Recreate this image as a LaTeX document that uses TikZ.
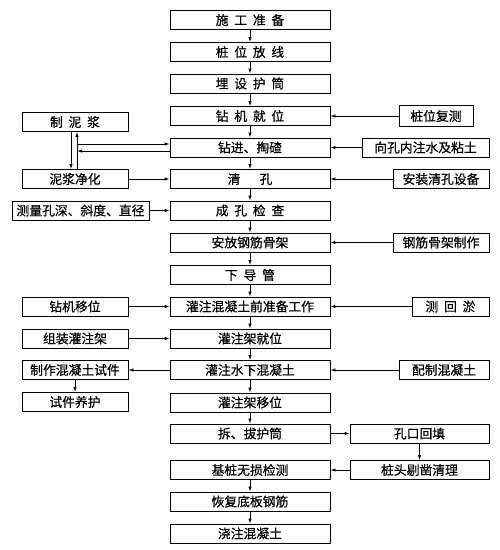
\documentclass[tikz,border=0pt]{standalone}
\usepackage{fontspec}
\newfontfamily\cjk{Noto Sans CJK SC}[FakeBold=0.6]
\usetikzlibrary{arrows.meta}
\newcommand{\jg}{\hspace{0.45em}}

\begin{document}
\begin{tikzpicture}[x=1pt,y=-1pt,line width=0.9pt,
        >={Latex[length=5pt,width=3.5pt]},
        box/.style={draw,minimum height=19pt,inner sep=0pt,font=\cjk\fontsize{12.8}{14}\selectfont},
        main/.style={box,minimum width=160pt},
        lbox/.style={box,minimum width=106pt},
        rbox/.style={box,minimum width=#1}]
            \useasboundingbox (0,0) rectangle (500,550);

            % Main column
            \node[main] (prep) at (250,20) {施\jg 工\jg 准\jg 备};
            \node[main] (stake) at (250,52) {桩\jg 位\jg 放\jg 线};
            \node[main] (casing) at (250,83.5) {埋\jg 设\jg 护\jg 筒};
            \node[main] (rig) at (250,116) {钻\jg 机\jg 就\jg 位};
            \node[main] (drill) at (250,147.5) {钻进、掏碴};
            \node[main] (clean) at (250,179) {清\hspace{1.5em}孔};
            \node[main] (check) at (250,210.5) {成\jg 孔\jg 检\jg 查};
            \node[main] (cage) at (250,242.5) {安放钢筋骨架};
            \node[main] (tube) at (250,275) {下\jg 导\jg 管};
            \node[main] (ready) at (250,306.5) {灌注混凝土前准备工作};
            \node[main] (frame) at (250,338.5) {灌注架就位};
            \node[main] (pour) at (250,370) {灌注水下混凝土};
            \node[main] (frmove) at (250,402.5) {灌注架移位};
            \node[main] (pull) at (250,433.5) {拆、拔护筒};
            \node[main] (ndt) at (250,470) {基桩无损检测};
            \node[main] (rebar) at (250,501.5) {恢复底板钢筋};
            \node[main] (slab) at (250,533.5) {浇注混凝土};

            % Left column
            \node[lbox] (mud) at (75,122) {制\jg 泥\jg 浆};
            \node[lbox] (purify) at (75,179) {泥浆净化};
            \node[box,minimum width=137pt] (measure) at (80.5,210.5) {测量孔深、斜度、直径};
            \node[lbox] (rigmove) at (75,306.5) {钻机移位};
            \node[lbox] (assemble) at (75,338.5) {组装灌注架};
            \node[lbox] (sample) at (75,370) {制作混凝土试件};
            \node[lbox] (cure) at (75,402) {试件养护};

            % Right column
            \node[rbox=74pt,minimum height=21pt] (recheck) at (436,116) {桩位复测};
            \node[rbox=127pt] (water) at (425.5,147.5) {向孔内注水及粘土};
            \node[rbox=96pt] (equip) at (441,179) {安装清孔设备};
            \node[rbox=96pt] (make) at (441,242.5) {钢筋骨架制作};
            \node[rbox=77pt] (silt) at (450.5,306.5) {测\jg 回\jg 淤};
            \node[rbox=90pt] (mix) at (444,370) {配制混凝土};
            \node[rbox=139pt] (backfill) at (419.5,433.5) {孔口回填};
            \node[rbox=139pt] (trim) at (419.5,470) {桩头剔凿清理};

            % Mud loop points
            \coordinate (down) at (71,0);
            \coordinate (upA) at (77,144);
            \coordinate (upB) at (77,151);

            % Main edges
            \draw[->] (prep) -- (stake);
            \draw[->] (stake) -- (casing);
            \draw[->] (casing) -- (rig);
            \draw[->] (rig) -- (drill);
            \draw[->] (drill) -- (clean);
            \draw[->] (clean) -- (check);
            \draw[->] (check) -- (cage);
            \draw[->] (cage) -- (tube);
            \draw[->] (tube) -- (ready);
            \draw[->] (ready) -- (frame);
            \draw[->] (frame) -- (pour);
            \draw[->] (pour) -- (frmove);
            \draw[->] (frmove) -- (pull);
            \draw[->] (ndt) -- (rebar);
            \draw[->] (rebar) -- (slab);

            % Side edges
            \draw[->] (mud.south -| down) -- (purify.north -| down);
            \draw[->] (purify.north -| upA) -- (mud.south -| upA);
            \draw[->] (upA) -- (upA -| drill.west);
            \draw[->] (upB -| drill.west) -- (upB);
            \draw[->] (purify) -- (clean);
            \draw[->] (measure) -- (check);
            \draw[->] (rigmove) -- (ready);
            \draw[->] (assemble) -- (frame);
            \draw[->] (pour) -- (sample);
            \draw[->] (sample) -- (cure);
            \draw[->] (recheck) -- (rig);
            \draw[->] (water) -- (drill);
            \draw[->] (equip) -- (clean);
            \draw[->] (make) -- (cage);
            \draw[->] (silt) -- (ready);
            \draw[->] (mix) -- (pour);
            \draw[->] (pull) -- (backfill);
            \draw[->] (backfill) -- (trim);
            \draw[->] (trim) -- (ndt);
        \end{tikzpicture}
\end{document}
